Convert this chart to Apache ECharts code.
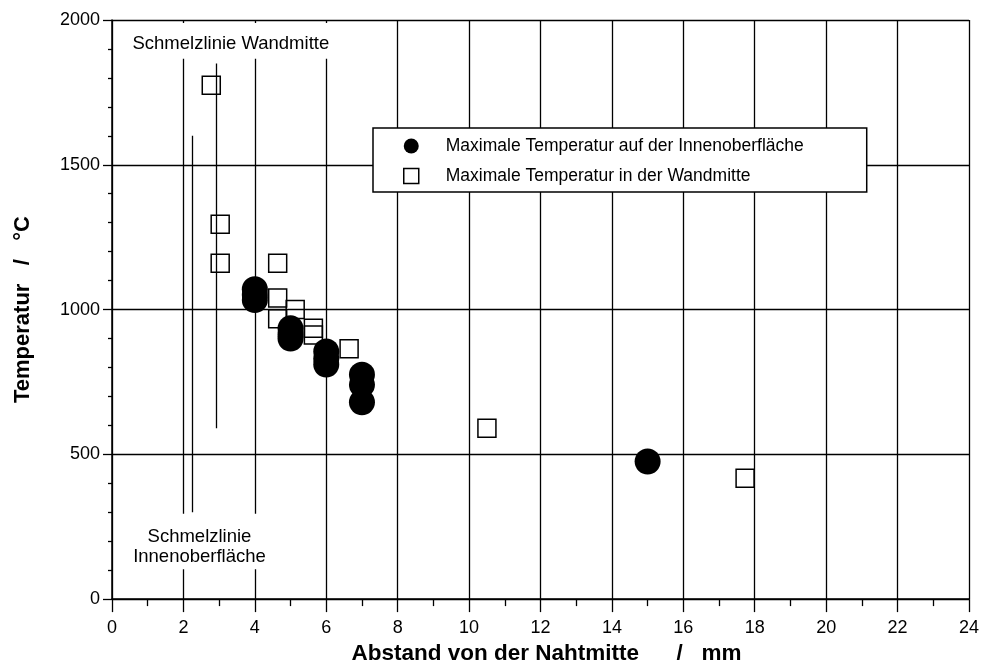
<!DOCTYPE html>
<html>
<head>
<meta charset="utf-8">
<script src="https://cdn.jsdelivr.net/npm/echarts@6/dist/echarts.min.js"></script>
<style>
  html, body { margin: 0; padding: 0; background: #ffffff; }
  #chart { width: 982px; height: 670px; }
</style>
</head>
<body>
<div id="chart"></div>
<script>
// Maximum temperature on the inner surface (filled circles)
const innerName = 'Maximale Temperatur auf der Innenoberfläche';
const innerX = [4.0, 4.0, 4.0, 5.0, 5.0, 5.0, 6.0, 6.0, 6.0, 7.0, 7.0, 7.0, 15.0];
const innerT = [1070, 1050, 1033, 935, 915, 900, 855, 830, 810, 775, 740, 680, 475];

// Maximum temperature in the middle of the wall (open squares)
const midName = 'Maximale Temperatur in der Wandmitte';
const midX = [2.78, 3.03, 3.03, 4.64, 4.64, 4.64, 5.13, 5.64, 5.64, 6.64, 10.5, 17.73];
const midT = [1775, 1295, 1160, 1160, 1040, 968, 1000, 935, 912, 865, 590, 417];

// Fusion lines: distance, lower and upper temperature of each drawn segment
const fusionX = [2.25, 2.92];
const fusionFrom = [300, 590];
const fusionTo = [1600, 1850];

// Annotation texts
const noteWall = 'Schmelzlinie Wandmitte';
const noteInner = 'Schmelzlinie\nInnenoberfläche';

// Axis settings
const xMin = 0, xMax = 24, xStep = 2;
const yMin = 0, yMax = 2000, yStep = 500;
const xTitle = 'Abstand von der Nahtmitte      /   mm';
const yTitle = 'Temperatur   /   °C';

const FONT = '"Liberation Sans", Arial, sans-serif';
const INK = '#000000';

const zip = (xs, ys) => xs.map((x, i) => [x, ys[i]]);

const chart = echarts.init(document.getElementById('chart'), null, { renderer: 'canvas' });

chart.setOption({
  animation: false,
  backgroundColor: '#ffffff',
  textStyle: { fontFamily: FONT, color: INK },
  grid: { left: 112, top: 20, width: 858, height: 584, containLabel: false },
  legend: {
    orient: 'vertical',
    left: 373,
    top: 128,
    padding: [9, 63, 7, 30],
    itemGap: 12,
    itemWidth: 15,
    itemHeight: 15,
    backgroundColor: '#ffffff',
    borderColor: INK,
    borderWidth: 1.5,
    borderRadius: 0,
    selectedMode: false,
    textStyle: { fontFamily: FONT, fontSize: 17.5, color: INK, padding: [0, 0, 0, 22] },
    data: [
      { name: innerName, icon: 'circle', itemStyle: { color: INK, borderWidth: 0 } },
      { name: midName, icon: 'rect', itemStyle: { color: '#ffffff', borderColor: INK, borderWidth: 1.5 } }
    ]
  },
  xAxis: {
    type: 'value',
    min: xMin, max: xMax, interval: xStep,
    name: xTitle,
    nameLocation: 'middle',
    nameGap: 42,
    nameTextStyle: { fontFamily: FONT, fontSize: 22.5, fontWeight: 'bold', color: INK, padding: [0, 0, 0, 12] },
    axisLine: { show: true, onZero: false, lineStyle: { color: INK, width: 1.5 } },
    axisTick: { show: true, inside: false, length: 13, lineStyle: { color: INK, width: 1.3 } },
    minorTick: { show: true, splitNumber: 2, length: 7, lineStyle: { color: INK, width: 1.3 } },
    axisLabel: { fontFamily: FONT, fontSize: 18, color: INK, margin: 20 },
    splitLine: { show: true, lineStyle: { color: INK, width: 1.3 } }
  },
  yAxis: {
    type: 'value',
    min: yMin, max: yMax, interval: yStep,
    name: yTitle,
    nameLocation: 'middle',
    nameGap: 78,
    nameTextStyle: { fontFamily: FONT, fontSize: 22, fontWeight: 'bold', color: INK },
    axisLine: { show: true, onZero: false, lineStyle: { color: INK, width: 1.5 } },
    axisTick: { show: true, inside: false, length: 9, lineStyle: { color: INK, width: 1.3 } },
    minorTick: { show: true, splitNumber: 5, length: 4, lineStyle: { color: INK, width: 1.3 } },
    axisLabel: { fontFamily: FONT, fontSize: 18, color: INK, margin: 12, formatter: (v) => String(v) },
    splitLine: { show: true, lineStyle: { color: INK, width: 1.3 } }
  },
  series: [
    {
      name: midName,
      type: 'scatter',
      symbol: 'rect',
      symbolSize: 18,
      itemStyle: { color: 'rgba(255,255,255,0)', borderColor: INK, borderWidth: 1.5, opacity: 1 },
      emphasis: { disabled: true },
      data: zip(midX, midT),
      z: 3,
      markLine: {
        silent: true,
        symbol: 'none',
        label: { show: false },
        lineStyle: { color: INK, width: 1.3, type: 'solid' },
        data: fusionX.map((x, i) => [{ coord: [x, fusionFrom[i]] }, { coord: [x, fusionTo[i]] }])
      },
      markArea: {
        silent: true,
        itemStyle: { color: '#ffffff', borderWidth: 0 },
        label: {
          show: true,
          position: 'inside',
          fontFamily: FONT,
          fontSize: 18.5,
          lineHeight: 20,
          color: INK
        },
        data: [
          [{ name: noteWall, coord: [0.3, 1866], label: { offset: [1, 3] } }, { coord: [6.3, 1990] }],
          [{ name: noteInner, coord: [0.5, 103], label: { offset: [0, 5] } }, { coord: [4.4, 295] }]
        ]
      }
    },
    {
      name: innerName,
      type: 'scatter',
      symbol: 'circle',
      symbolSize: 26,
      itemStyle: { color: INK, opacity: 1 },
      emphasis: { disabled: true },
      data: zip(innerX, innerT),
      z: 4
    }
  ]
});
</script>
</body>
</html>
